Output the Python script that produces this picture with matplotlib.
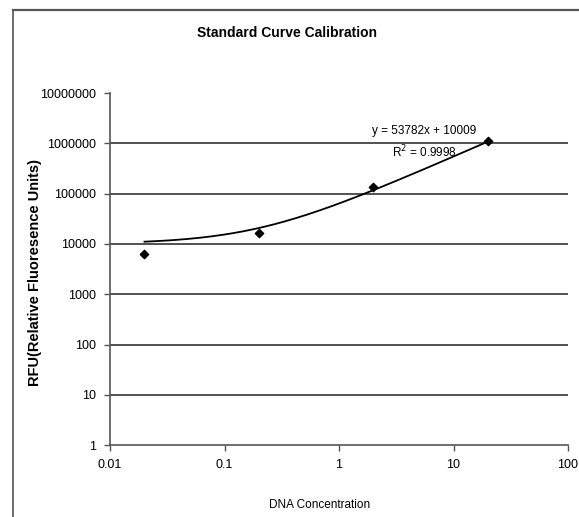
import numpy as np
import matplotlib.pyplot as plt
from matplotlib.lines import Line2D

plt.rcParams['font.family'] = ['Liberation Sans Narrow', 'Liberation Sans', 'DejaVu Sans']

# data
conc = [0.02, 0.2, 2, 20]
rfu = [6300, 16800, 133000, 1130000]

# linear trendline shown on the chart
slope = 53782
intercept = 10009
r2 = 0.9998

fig = plt.figure(figsize=(5.79, 5.17), dpi=100)
ax = fig.add_axes([0.19, 0.139, 0.791, 0.681])

# frame of the chart area (only top and left show in the picture)
fig.add_artist(Line2D([13/579, 13/579], [0, 1 - 10/517], color='#555555', lw=1.2,
                      transform=fig.transFigure))
fig.add_artist(Line2D([13/579, 1], [1 - 10/517, 1 - 10/517], color='#555555', lw=1.6,
                      transform=fig.transFigure))

xt = np.geomspace(conc[0], conc[-1], 200)
ax.plot(xt, slope * xt + intercept, color='black', lw=1.3)
ax.scatter(conc, rfu, marker='D', s=18, color='black', zorder=3)

ax.set_xscale('log')
ax.set_yscale('log')
ax.set_xlim(0.01, 100)
ax.set_ylim(1, 1e7)

xticks = [0.01, 0.1, 1, 10, 100]
yticks = [1, 10, 100, 1000, 10000, 100000, 1000000, 10000000]
ax.set_xticks(xticks)
ax.set_xticklabels(['0.01', '0.1', '1', '10', '100'])
ax.set_yticks(yticks)
ax.set_yticklabels([str(v) for v in yticks])
ax.minorticks_off()

for v in yticks[1:-1]:
    ax.axhline(v, color='#333333', lw=1.2, zorder=1)

for s in ['top', 'right']:
    ax.spines[s].set_visible(False)
for s in ['left', 'bottom']:
    ax.spines[s].set_color('#555555')
    ax.spines[s].set_linewidth(1.2)
ax.tick_params(direction='out', length=4, width=1, color='#555555',
               labelsize=9, pad=6)

fig.text(287/579, 1 - 33/517, 'Standard Curve Calibration', fontsize=10,
         fontweight='bold', ha='center', va='center')
fig.text(320/579, 1 - 505/517, 'DNA Concentration', fontsize=8.5,
         ha='center', va='center')
fig.text(35/579, 1 - 272/517, 'RFU(Relative Fluoresence Units)', fontsize=10.5,
         fontweight='bold', rotation=90, ha='center', va='center')

ax.text(5.5, 1.75e6, f'y = {slope}x + {intercept}', fontsize=8.5, ha='center', va='center')
ax.text(5.6, 0.67e6, f'R$^2$ = {r2}', fontsize=8.5, ha='center', va='center')

fig.savefig('out.png', dpi=100)
